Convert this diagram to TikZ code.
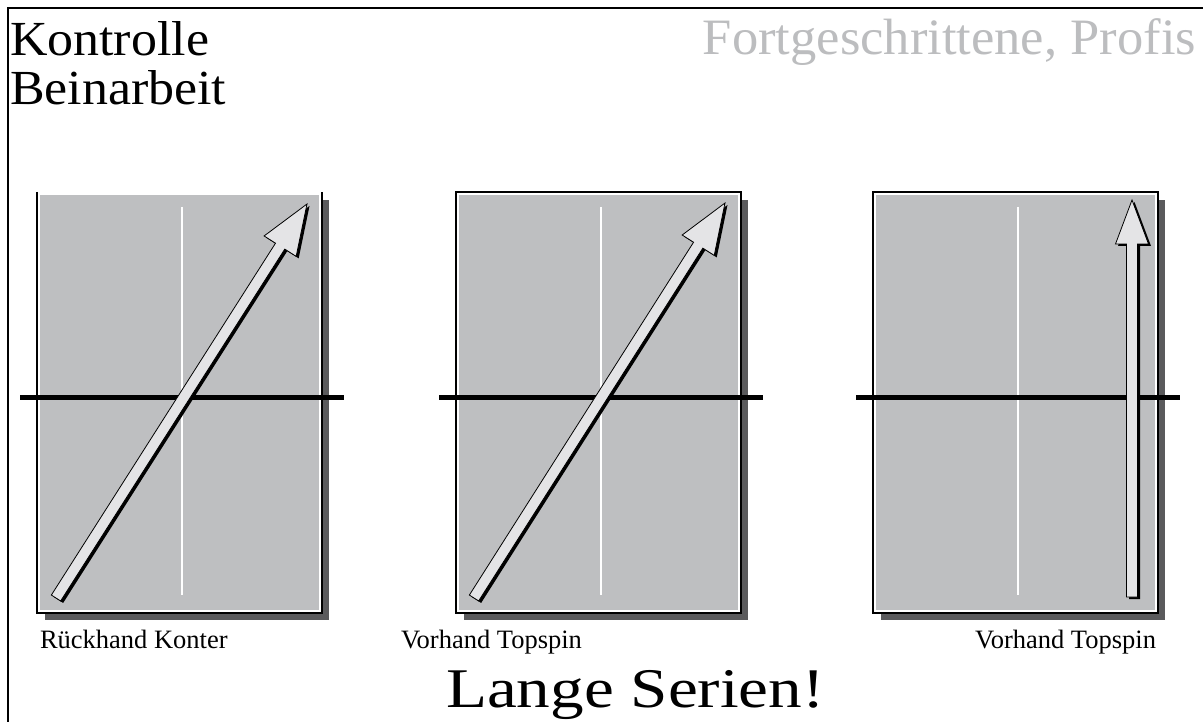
\documentclass[tikz,border=0pt]{standalone}
\usepackage{fontspec}
\setmainfont{Liberation Serif}
\usepackage{graphicx}
\usetikzlibrary{calc}
\definecolor{panelgray}{RGB}{190,191,193}
\definecolor{shadowgray}{RGB}{90,90,92}
\definecolor{arrowfill}{RGB}{228,228,230}
\definecolor{titlegray}{RGB}{188,189,191}
\tikzset{
  txt/.style={inner sep=0pt, outer sep=0pt},
  netline/.style={line width=5pt, black},
  midline/.style={line width=1.5pt, white},
  framebox/.style={line width=1.2pt, black},
  arrowbody/.style={fill=arrowfill, draw=black, line width=0.8pt, line join=miter},
}
\newcommand\mypanel[2]{% #1 = left x, #2 = 1 if top edge drawn
  \fill[shadowgray] (#1+8,200) rectangle (#1+292,620);
  \fill[white] (#1,192) rectangle (#1+285,613);
  \ifnum#2=1
    \draw[framebox] (#1,192) rectangle (#1+285,613);
  \else
    \draw[framebox] (#1,192) -- (#1,613) -- (#1+285,613) -- (#1+285,192);
  \fi
  \fill[panelgray] (#1+3,195) rectangle (#1+282,610);
  \draw[midline] (#1+145,207) -- (#1+145,595);
  \draw[netline] (#1-17,397) -- (#1+307,397);
}
\newcommand\myarrow[5]{% tail, tip, head length, head half width, shaft half width
  \coordinate (aT) at #1;
  \coordinate (aP) at #2;
  \coordinate (aB) at ($(aP)!#3pt!(aT)$);
  \coordinate (q1) at ($(aT)!#5pt!90:(aP)$);
  \coordinate (q2) at ($(aB)!#5pt!90:(aP)$);
  \coordinate (q3) at ($(aB)!#4pt!90:(aP)$);
  \coordinate (q4) at ($(aB)!#4pt!-90:(aP)$);
  \coordinate (q5) at ($(aB)!#5pt!-90:(aP)$);
  \coordinate (q6) at ($(aT)!#5pt!-90:(aP)$);
  \fill[black] ([shift={(2.5,2)}]q1) -- ([shift={(2.5,2)}]q2) -- ([shift={(2.5,2)}]q3)
    -- ([shift={(2.5,2)}]aP) -- ([shift={(2.5,2)}]q4) -- ([shift={(2.5,2)}]q5)
    -- ([shift={(2.5,2)}]q6) -- cycle;
  \filldraw[arrowbody] (q1) -- (q2) -- (q3) -- (aP) -- (q4) -- (q5) -- (q6) -- cycle;
}
\begin{document}
\begin{tikzpicture}[x=1pt,y=-1pt]
\useasboundingbox (0,0) rectangle (1203,722);
\fill[white] (0,0) rectangle (1203,722);
\draw[line width=2pt] (8,722) -- (8,8) -- (1203,8);

% titles
\node[txt, anchor=base west] (t1) at (10,56) {\fontsize{49}{52}\selectfont\scalebox{1.06}[1]{Kontrolle}};
\node[txt, anchor=base west] (t2) at (10,105) {\fontsize{49}{52}\selectfont\scalebox{1.06}[1]{Beinarbeit}};
\node[txt, anchor=base east, text=titlegray] (t3) at (1196,55) {\fontsize{51}{54}\selectfont\scalebox{1.03}[1]{Fortgeschrittene, Profis}};

% panels
\mypanel{37}{0}
\mypanel{456}{1}
\mypanel{873}{1}

% arrows
\myarrow{(56,598)}{(307,204)}{50}{19}{5.5}
\myarrow{(474,598)}{(725,203)}{50}{19}{5.5}
\myarrow{(1132,597)}{(1132,200)}{44}{16.5}{5.5}

% labels
\node[txt, anchor=base west] (l1) at (40,648) {\fontsize{26.5}{29}\selectfont Rückhand Konter};
\node[txt, anchor=base west] (l2) at (401,648) {\fontsize{26.5}{29}\selectfont Vorhand Topspin};
\node[txt, anchor=base east] (l3) at (1156,648) {\fontsize{26.5}{29}\selectfont Vorhand Topspin};
\node[txt, anchor=base west] (l4) at (446,707) {\fontsize{56}{60}\selectfont\scalebox{1.2}[1]{Lange Serien!}};
\end{tikzpicture}
\end{document}
